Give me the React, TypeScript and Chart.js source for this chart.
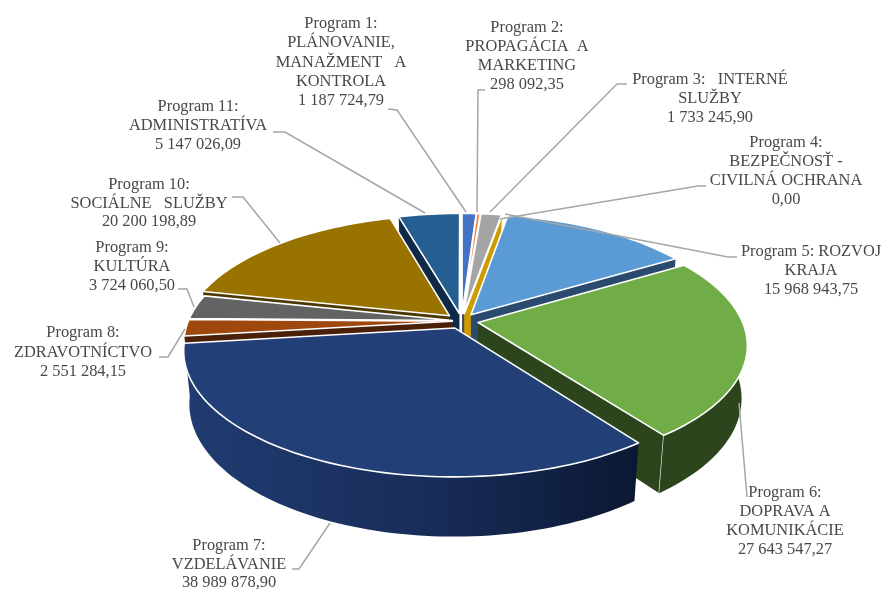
import React, { useEffect, useRef } from "react";
import { Chart, registerables } from "chart.js";

Chart.register(...registerables);

const categories = [
  "Program 1", "Program 2", "Program 3", "Program 4", "Program 5", "Program 6",
  "Program 7", "Program 8", "Program 9", "Program 10", "Program 11",
];
const amounts = [
  1187724.79, 298092.35, 1733245.9, 0, 15968943.75, 27643547.27,
  38989878.9, 2551284.15, 3724060.5, 20200198.89, 5147026.09,
];
const labelLines = [
  ["Program 1:", "PLÁNOVANIE,", "MANAŽMENT   A", "KONTROLA", "1 187 724,79"],
  ["Program 2:", "PROPAGÁCIA  A", "MARKETING", "298 092,35"],
  ["Program 3:   INTERNÉ", "SLUŽBY", "1 733 245,90"],
  ["Program 4:", "BEZPEČNOSŤ -", "CIVILNÁ OCHRANA", "0,00"],
  ["Program 5: ROZVOJ", "KRAJA", "15 968 943,75"],
  ["Program 6:", "DOPRAVA A", "KOMUNIKÁCIE", "27 643 547,27"],
  ["Program 7:", "VZDELÁVANIE", "38 989 878,90"],
  ["Program 8:", "ZDRAVOTNÍCTVO", "2 551 284,15"],
  ["Program 9:", "KULTÚRA", "3 724 060,50"],
  ["Program 10:", "SOCIÁLNE   SLUŽBY", "20 200 198,89"],
  ["Program 11:", "ADMINISTRATÍVA", "5 147 026,09"],
];
const topColors = [
  "#4472c4", "#ed7d31", "#a5a5a5", "#cc9b00", "#5b9bd5", "#70ad47",
  "#224077", "#9e480e", "#636363", "#997300", "#255e91",
];
const sideColors = [
  "#223a66", "#7a3f18", "#555555", "#cc9b00", "#2a4a6e", "#2d451c",
  "#1a3060", "#4a2008", "#333333", "#4a3800", "#0f2a48",
];
const sliceBursts = [0.0635, 0.0635, 0.0635, 0.0635, 0.0635, 0.0635, 0.0635, 0.035, 0.035, 0.0635, 0.0635];

// label placement: centre x, middle y of first line, line gap
const labelPlaces = [
  [341, 24, 19.2], [527, 28, 19], [710, 80, 19], [786, 143, 19], [811, 252, 19], [785, 493, 18.8],
  [229, 546, 18.6], [83, 333, 19.3], [132, 248, 19], [149, 185, 18.6], [198, 107, 19],
];
const leaderPaths = [
  [[388, 109], [397, 110], [466, 212]],
  [[485, 90], [478, 90], [477, 212]],
  [[627, 84], [617, 84], [490, 212]],
  [[706, 186], [698, 186], [500, 219]],
  [[737, 257], [728, 257], [505, 214]],
  [[747, 497], [739, 403]],
  [[292, 569], [299, 569], [330, 523]],
  [[159, 357], [168, 357], [185, 329]],
  [[178, 289], [187, 289], [194, 307]],
  [[232, 197], [243, 197], [280, 243]],
  [[273, 132], [285, 132], [425, 213]],
];

const view = { x0: 461.6, y0: 321, rx: 264, ry: 120, p: 0.175, q: 0.02, depth: 53 };

function project(u: number, v: number, z: number) {
  const s = 1 / (1 - view.p * v + view.q * z);
  return [view.x0 + view.rx * u * s, view.y0 + (view.ry * v + view.depth * z) * s];
}

function tracePolygon(ctx: CanvasRenderingContext2D, pts: number[][]) {
  ctx.beginPath();
  pts.forEach((p, i) => (i ? ctx.lineTo(p[0], p[1]) : ctx.moveTo(p[0], p[1])));
  ctx.closePath();
}

const pie3d = {
  id: "pie3d",
  beforeDatasetsDraw(chart: any) {
    const ctx: CanvasRenderingContext2D = chart.ctx;
    const arcs = chart.getDatasetMeta(0).data;
    const slices = arcs.map((arc: any, i: number) => {
      const { startAngle, endAngle } = arc.getProps(["startAngle", "endAngle"], true);
      const mid = (startAngle + endAngle) / 2;
      const b = sliceBursts[i];
      return { i, startAngle, endAngle, ou: Math.cos(mid) * b, ov: Math.sin(mid) * b, depthKey: Math.sin(mid) };
    });
    slices.sort((a: any, b: any) => a.depthKey - b.depthKey);

    ctx.save();
    ctx.lineJoin = "round";
    for (const s of slices) {
      const steps = Math.max(1, Math.ceil(((s.endAngle - s.startAngle) * 180) / Math.PI / 1.5));
      const rim: number[][] = [];
      for (let k = 0; k <= steps; k++) {
        const a = s.startAngle + ((s.endAngle - s.startAngle) * k) / steps;
        rim.push([s.ou + Math.cos(a), s.ov + Math.sin(a)]);
      }
      const apex = [s.ou, s.ov];
      const top = (q: number[]) => project(q[0], q[1], 0);
      const low = (q: number[]) => project(q[0], q[1], 1);
      const wallFill = (pts: number[][]) => {
        if (s.i === 6) {
          const xs = pts.map((p) => p[0]);
          const g = ctx.createLinearGradient(Math.min(...xs), 0, Math.max(...xs), 0);
          g.addColorStop(0, "#213c72");
          g.addColorStop(0.55, "#182c58");
          g.addColorStop(1, "#0b1833");
          return g;
        }
        return sideColors[s.i];
      };

      const radial = (outer: number[], facing: number) => {
        const a = top(apex), b = top(outer), c = low(outer), d = low(apex);
        const cross = (b[0] - a[0]) * (d[1] - a[1]) - (b[1] - a[1]) * (d[0] - a[0]);
        if (cross * facing <= 0 && s.endAngle !== s.startAngle) return;
        ctx.fillStyle = wallFill([a, b, c, d]);
        tracePolygon(ctx, [a, b, c, d]);
        ctx.fill();
        ctx.strokeStyle = "#ffffff";
        ctx.lineWidth = 1.2;
        ctx.beginPath();
        ctx.moveTo(b[0], b[1]);
        ctx.lineTo(c[0], c[1]);
        ctx.stroke();
      };
      radial(rim[0], -1);
      radial(rim[rim.length - 1], 1);

      if (s.endAngle !== s.startAngle) {
        const wall = [...rim.map(top), ...rim.slice().reverse().map(low)];
        ctx.fillStyle = wallFill(wall);
        tracePolygon(ctx, wall);
        ctx.fill();
      }

      const face = [top(apex), ...rim.map(top)];
      tracePolygon(ctx, face);
      ctx.fillStyle = topColors[s.i];
      ctx.fill();
      ctx.strokeStyle = "#ffffff";
      ctx.lineWidth = 1.6;
      ctx.stroke();
    }
    ctx.restore();
    return false;
  },
  afterDraw(chart: any) {
    const ctx: CanvasRenderingContext2D = chart.ctx;
    ctx.save();
    ctx.strokeStyle = "#a6a6a6";
    ctx.lineWidth = 1.5;
    leaderPaths.forEach((path) => {
      ctx.beginPath();
      path.forEach((p, i) => (i ? ctx.lineTo(p[0], p[1]) : ctx.moveTo(p[0], p[1])));
      ctx.stroke();
    });
    ctx.fillStyle = "#484848";
    ctx.font = '16.4px "Liberation Serif"';
    ctx.textAlign = "center";
    ctx.textBaseline = "middle";
    labelLines.forEach((lines, i) => {
      const [x, y, gap] = labelPlaces[i];
      lines.forEach((line, k) => ctx.fillText(line, x, y + k * gap));
    });
    ctx.restore();
  },
};

export default function App() {
  const ref = useRef<HTMLCanvasElement>(null);
  useEffect(() => {
    document.body.style.margin = "0";
    const chart = new Chart(ref.current!, {
      type: "pie",
      data: {
        labels: categories,
        datasets: [{ data: amounts, backgroundColor: topColors, borderColor: "#ffffff", borderWidth: 1.5 }],
      },
      options: {
        animation: false,
        responsive: false,
        rotation: 0,
        plugins: { legend: { display: false }, tooltip: { enabled: false } },
      },
      plugins: [pie3d],
    } as any);
    return () => chart.destroy();
  }, []);
  return <canvas ref={ref} width={884} height={590} style={{ display: "block" }} />;
}
